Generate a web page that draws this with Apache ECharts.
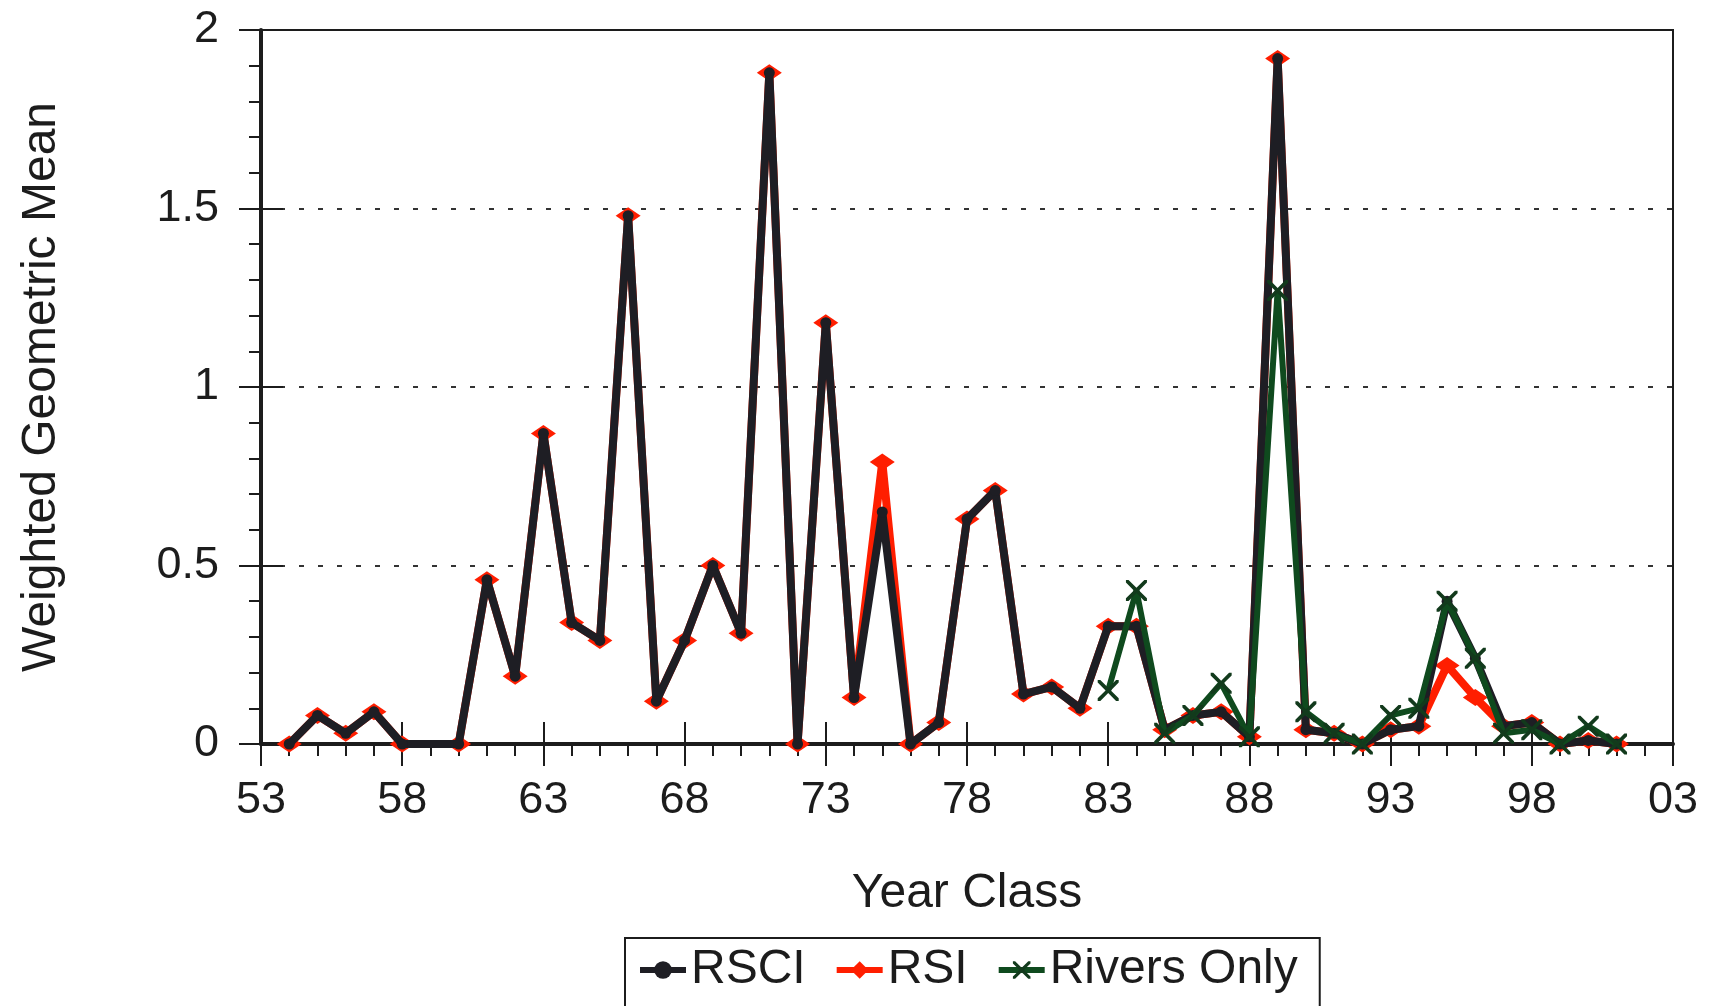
<!DOCTYPE html>
<html>
<head>
<meta charset="utf-8">
<script src="https://cdn.jsdelivr.net/npm/echarts@6/dist/echarts.min.js"></script>
<style>
  html, body { margin: 0; padding: 0; background: #fff; }
  #chart { width: 1713px; height: 1006px; }
</style>
</head>
<body>
<div id="chart"></div>
<script>
// Year classes 1953 .. 2003 (two-digit labels)
var years = ['53','54','55','56','57','58','59','60','61','62',
             '63','64','65','66','67','68','69','70','71','72',
             '73','74','75','76','77','78','79','80','81','82',
             '83','84','85','86','87','88','89','90','91','92',
             '93','94','95','96','97','98','99','00','01','02','03'];

var rsi = [null, 0, 0.08, 0.03, 0.09, 0, null, 0, 0.46, 0.19,
           0.87, 0.34, 0.29, 1.48, 0.12, 0.29, 0.50, 0.31, 1.88, 0,
           1.18, 0.13, 0.79, 0, 0.06, 0.63, 0.71, 0.14, 0.16, 0.10,
           0.33, 0.33, 0.04, 0.08, 0.09, 0.02, 1.92, 0.04, 0.03, 0,
           0.04, 0.05, 0.22, 0.13, 0.05, 0.06, 0, 0.01, 0, null, null];

var rsci = [null, 0, 0.08, 0.03, 0.09, 0, null, 0, 0.46, 0.19,
            0.87, 0.34, 0.29, 1.48, 0.12, 0.29, 0.50, 0.31, 1.88, 0,
            1.18, 0.13, 0.65, 0, 0.06, 0.63, 0.71, 0.14, 0.16, 0.10,
            0.33, 0.33, 0.04, 0.08, 0.09, 0.02, 1.92, 0.04, 0.03, 0,
            0.04, 0.05, 0.40, 0.24, 0.05, 0.06, 0, 0.01, 0, null, null];

var riversOnly = [null, null, null, null, null, null, null, null, null, null,
                  null, null, null, null, null, null, null, null, null, null,
                  null, null, null, null, null, null, null, null, null, null,
                  0.15, 0.43, 0.03, 0.08, 0.17, 0.02, 1.27, 0.09, 0.03, 0,
                  0.08, 0.10, 0.40, 0.24, 0.03, 0.04, 0, 0.05, 0, null, null];

var yTicks = { min: 0, max: 2, interval: 0.5 };

var FONT = "'Liberation Sans', Arial, sans-serif";
var INK = '#1c1c1c';
var X_SHAPE = 'path://M0,0 L2.5,0 L10,7.5 L17.5,0 L20,0 L20,2.5 L12.5,10 L20,17.5 L20,20 L17.5,20 L10,12.5 L2.5,20 L0,20 L0,17.5 L7.5,10 L0,2.5 Z';

var chart = echarts.init(document.getElementById('chart'), null, { renderer: 'canvas' });

var option = {
  animation: false,
  backgroundColor: '#fff',
  textStyle: { fontFamily: FONT, color: INK },
  grid: {
    left: 261, right: 40, top: 30, bottom: 262,
    show: true, borderColor: INK, borderWidth: 2,
    containLabel: false, outerBoundsMode: 'none'
  },
  legend: {
    data: ['RSCI', 'RSI', 'Rivers Only'],
    left: 625, top: 938,
    orient: 'horizontal',
    itemWidth: 46, itemHeight: 22, itemGap: 28,
    padding: [8, 22, 40, 12],
    borderColor: INK, borderWidth: 2, borderRadius: 0,
    lineStyle: { width: 6 },
    textStyle: { fontFamily: FONT, fontSize: 48, color: INK }
  },
  xAxis: [
    {
      type: 'category', data: years, boundaryGap: false, position: 'bottom',
      name: 'Year Class', nameLocation: 'middle', nameGap: 126,
      nameTextStyle: { fontFamily: FONT, fontSize: 48, color: INK },
      axisLine: { show: true, onZero: false, lineStyle: { color: INK, width: 4 } },
      axisTick: { show: true, interval: 0, length: 12, lineStyle: { color: INK, width: 2 } },
      axisLabel: { interval: 4, margin: 34, fontFamily: FONT, fontSize: 45, color: INK },
      splitLine: { show: false }
    },
    {
      type: 'category', data: years, boundaryGap: false, position: 'bottom',
      axisLine: { show: false, onZero: false },
      axisTick: { show: true, interval: 4, length: 22, lineStyle: { color: INK, width: 2 } },
      axisLabel: { show: false },
      splitLine: { show: false }
    },
    {
      type: 'category', data: years, boundaryGap: false, position: 'bottom',
      axisLine: { show: false, onZero: false },
      axisTick: { show: true, inside: true, interval: 4, length: 22, lineStyle: { color: INK, width: 2 } },
      axisLabel: { show: false },
      splitLine: { show: false }
    }
  ],
  yAxis: [
    {
      type: 'value', min: yTicks.min, max: yTicks.max, interval: yTicks.interval, position: 'left',
      name: 'Weighted Geometric Mean', nameLocation: 'middle', nameGap: 195, nameRotate: 90,
      nameTextStyle: { fontFamily: FONT, fontSize: 48, color: INK },
      axisLine: { show: true, lineStyle: { color: INK, width: 4 } },
      axisTick: { show: true, length: 22, lineStyle: { color: INK, width: 2 } },
      minorTick: { show: true, splitNumber: 5, length: 12, lineStyle: { color: INK, width: 2 } },
      axisLabel: { margin: 42, fontFamily: FONT, fontSize: 45, color: INK },
      splitLine: { show: true, showMinLine: false, showMaxLine: false,
                   lineStyle: { color: '#333', width: 2, type: [5, 14] } }
    },
    {
      type: 'value', min: yTicks.min, max: yTicks.max, interval: yTicks.interval, position: 'left',
      axisLine: { show: false },
      axisTick: { show: true, inside: true, length: 22, lineStyle: { color: INK, width: 2 } },
      axisLabel: { show: false },
      splitLine: { show: false }
    }
  ],
  series: [
    {
      name: 'RSI', type: 'line', data: rsi, connectNulls: true, z: 2,
      showAllSymbol: true, symbol: 'diamond', symbolSize: [25, 17],
      lineStyle: { color: '#ff1e00', width: 8 },
      itemStyle: { color: '#ff1e00' }
    },
    {
      name: 'RSCI', type: 'line', data: rsci, connectNulls: true, z: 3,
      showAllSymbol: true, symbol: 'circle', symbolSize: 11,
      lineStyle: { color: '#1e1e24', width: 8 },
      itemStyle: { color: '#1e1e24' }
    },
    {
      name: 'Rivers Only', type: 'line', data: riversOnly, connectNulls: false, z: 4,
      showAllSymbol: true, symbol: X_SHAPE, symbolSize: 21,
      lineStyle: { color: '#0f4a1e', width: 6 },
      itemStyle: { color: '#123a1c' }
    }
  ]
};

chart.setOption(option);
</script>
</body>
</html>
